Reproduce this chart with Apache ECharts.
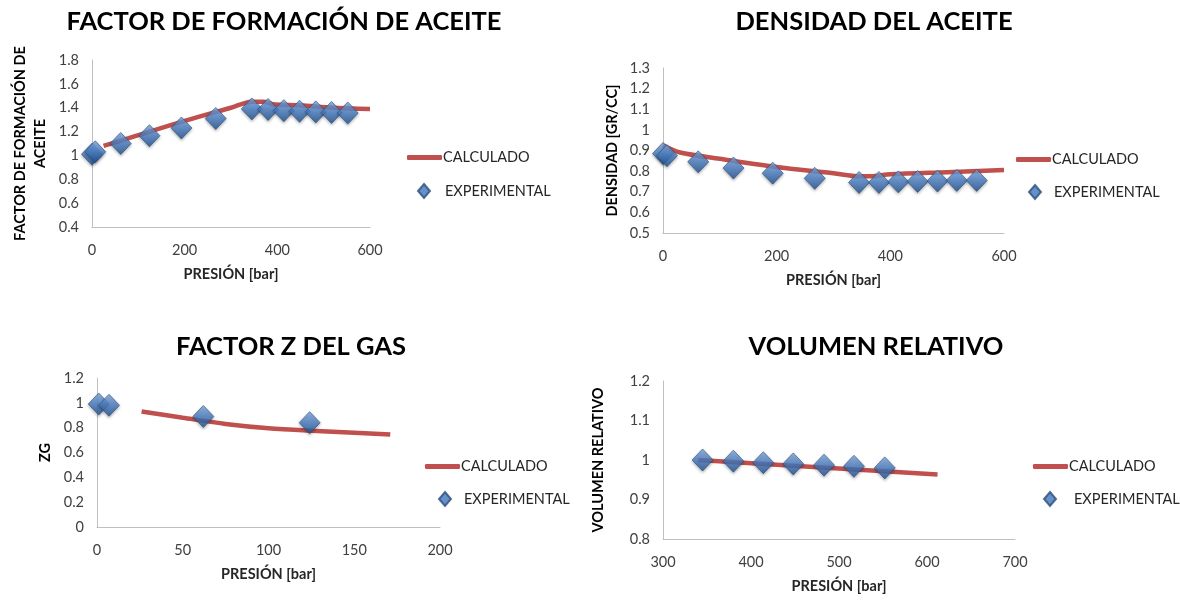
<!DOCTYPE html>
<html>
<head>
<meta charset="utf-8">
<script src="https://cdn.jsdelivr.net/npm/echarts@6/dist/echarts.min.js"></script>
<style>
html,body{margin:0;padding:0;background:#fff;}
#chart{width:1180px;height:600px;}
</style>
</head>
<body>
<div id="chart"></div>
<script>
// ---- Data ----
const titles = ['FACTOR DE FORMACIÓN DE ACEITE', 'DENSIDAD DEL ACEITE', 'FACTOR Z DEL GAS', 'VOLUMEN RELATIVO'];
const yNames = ['FACTOR DE FORMACIÓN DE\nACEITE', 'DENSIDAD [GR/CC]', 'ZG', 'VOLUMEN RELATIVO'];
const xName = 'PRESIÓN [bar]';
const legendNames = ['CALCULADO', 'EXPERIMENTAL'];

// Factor de formación de aceite
const boExpP = [0, 7, 62, 124, 193, 267, 345, 380, 414, 448, 483, 517, 552];
const boExpV = [1.01, 1.03, 1.10, 1.165, 1.23, 1.31, 1.39, 1.385, 1.375, 1.37, 1.365, 1.36, 1.355];
const boCalP = [25, 100, 200, 300, 345, 370, 390, 450, 520, 600];
const boCalV = [1.08, 1.17, 1.29, 1.40, 1.45, 1.45, 1.43, 1.42, 1.40, 1.39];

// Densidad del aceite
const rhoExpP = [0, 7, 62, 124, 193, 267, 345, 380, 414, 448, 483, 517, 552];
const rhoExpV = [0.885, 0.875, 0.845, 0.815, 0.79, 0.765, 0.745, 0.745, 0.748, 0.75, 0.752, 0.755, 0.755];
const rhoCalP = [0, 30, 100, 200, 300, 345, 365, 400, 500, 600];
const rhoCalV = [0.925, 0.89, 0.86, 0.82, 0.79, 0.775, 0.775, 0.785, 0.795, 0.805];

// Factor Z del gas
const zExpP = [1, 7, 62, 124];
const zExpV = [0.99, 0.98, 0.89, 0.84];
const zCalP = [26, 50, 75, 100, 125, 150, 171];
const zCalV = [0.93, 0.88, 0.83, 0.795, 0.775, 0.76, 0.745];

// Volumen relativo
const vrExpP = [345, 380, 414, 448, 483, 517, 552];
const vrExpV = [1.0, 0.997, 0.993, 0.99, 0.987, 0.984, 0.98];
const vrCalP = [340, 612];
const vrCalV = [1.0, 0.963];

// Axis ranges / tick steps
const xMin = [0, 0, 0, 300], xMax = [600, 600, 200, 700], xStep = [200, 200, 50, 100];
const yMin = [0.4, 0.5, 0, 0.8], yMax = [1.8, 1.3, 1.2, 1.2], yStep = [0.2, 0.1, 0.2, 0.1];

// ---- Layout ----
const grids = [
  {left: 92, top: 60, width: 278, height: 167},
  {left: 663, top: 68, width: 341, height: 165},
  {left: 97, top: 378, width: 343, height: 149},
  {left: 663, top: 381, width: 352, height: 158}
];
const titlePos = [{x: 279, y: 4}, {x: 869, y: 4}, {x: 286, y: 329}, {x: 871, y: 329}];
const legLineX = [407, 1016, 425, 1033];
const legDiaX = [423, 1034, 444, 1049];
const legTextX2 = [444, 1053, 463, 1073];
const legY1 = [157, 159, 466, 466];
const legY2 = [190, 191, 498, 498];
const yNameGap = [42, 41, 42, 55];

const zip = (a, b) => a.map((v, i) => [v, b[i]]);
const expData = [zip(boExpP, boExpV), zip(rhoExpP, rhoExpV), zip(zExpP, zExpV), zip(vrExpP, vrExpV)];
const calData = [zip(boCalP, boCalV), zip(rhoCalP, rhoCalV), zip(zCalP, zCalV), zip(vrCalP, vrCalV)];

const FONT = 'Lato';
const RED = '#C0504D';
const diamondColor = new echarts.graphic.LinearGradient(0, 0, 0, 1, [
  {offset: 0, color: '#86B0E6'},
  {offset: 0.48, color: '#4A7FC4'},
  {offset: 1, color: '#1F4E8C'}
]);

const option = {
  backgroundColor: '#ffffff',
  animation: false,
  title: [], grid: [], xAxis: [], yAxis: [], series: [], legend: []
};

for (let i = 0; i < 4; i++) {
  option.title.push({
    text: titles[i], left: titlePos[i].x, top: titlePos[i].y, textAlign: 'center',
    textStyle: {fontFamily: FONT, fontWeight: 'bold', fontSize: 25.5, color: '#000'}
  });
  option.grid.push(Object.assign({containLabel: false}, grids[i]));
  option.xAxis.push({
    type: 'value', gridIndex: i, min: xMin[i], max: xMax[i], interval: xStep[i],
    name: xName, nameLocation: 'middle', nameGap: 40,
    nameTextStyle: {fontFamily: FONT, fontWeight: 'bold', fontSize: 14.5, color: '#262626'},
    axisLine: {show: true, onZero: false, lineStyle: {color: '#BFBFBF', width: 1}},
    axisTick: {show: false}, splitLine: {show: false},
    axisLabel: {fontFamily: FONT, fontSize: 14.5, color: '#404040', margin: 16}
  });
  option.yAxis.push({
    type: 'value', gridIndex: i, min: yMin[i], max: yMax[i], interval: yStep[i],
    name: yNames[i], nameLocation: 'middle', nameGap: yNameGap[i], nameRotate: 90,
    nameTextStyle: {fontFamily: FONT, fontWeight: 'bold', fontSize: 14.5, color: '#000', lineHeight: 20},
    axisLine: {show: true, onZero: false, lineStyle: {color: '#BFBFBF', width: 1}},
    axisTick: {show: false}, splitLine: {show: false},
    axisLabel: {fontFamily: FONT, fontSize: 14.5, color: '#404040', margin: 13,
      formatter: v => String(Math.round(v * 10) / 10)}
  });
  option.series.push({
    name: legendNames[0], type: 'line', xAxisIndex: i, yAxisIndex: i,
    data: calData[i], smooth: 0.3, showSymbol: false, symbol: 'none',
    lineStyle: {color: RED, width: 4.5}, itemStyle: {color: RED}, z: 2
  });
  option.series.push({
    name: legendNames[1], type: 'scatter', xAxisIndex: i, yAxisIndex: i,
    data: expData[i], symbol: 'diamond', symbolSize: [21, 22],
    itemStyle: {color: diamondColor, borderColor: '#2A4D7C', borderWidth: 0.8,
      shadowColor: 'rgba(0,0,0,0.35)', shadowBlur: 3, shadowOffsetY: 1.5},
    z: 3
  });
  option.legend.push({
    data: [{name: legendNames[0], icon: 'roundRect'}], left: legLineX[i], top: legY1[i] - 7,
    itemWidth: 35, itemHeight: 5, itemGap: 0, padding: 0, selectedMode: false,
    textStyle: {fontFamily: FONT, fontSize: 14.5, color: '#262626', padding: [0, 0, 0, -4]}
  });
  option.legend.push({
    data: [{name: legendNames[1], icon: 'diamond', itemStyle: {color: '#3F74BA'}}],
    left: legDiaX[i] - 6, top: legY2[i] - 7,
    itemWidth: 12, itemHeight: 14, padding: 0, selectedMode: false,
    textStyle: {fontFamily: FONT, fontSize: 14.5, color: '#262626',
      padding: [0, 0, 0, legTextX2[i] - (legDiaX[i] - 6) - 12 - 5]}
  });
}

const chart = echarts.init(document.getElementById('chart'), null, {renderer: 'canvas'});
chart.setOption(option);
</script>
</body>
</html>
